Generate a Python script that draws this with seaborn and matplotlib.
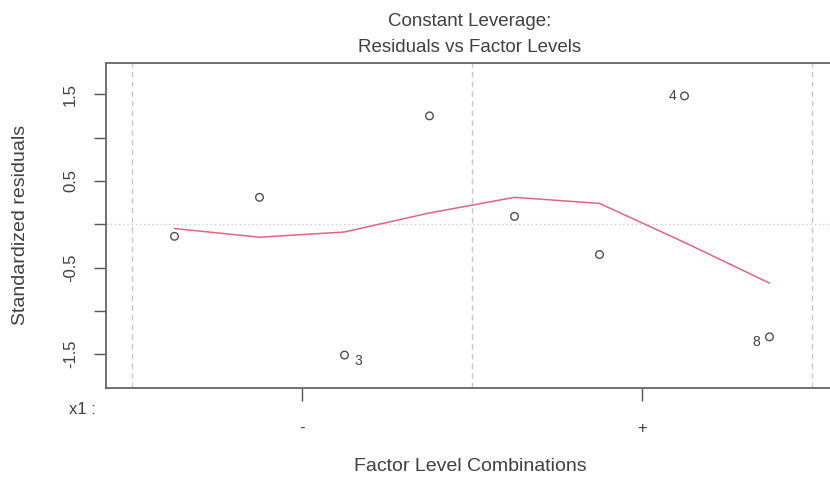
import matplotlib
matplotlib.use("Agg")
import matplotlib.pyplot as plt
import numpy as np
import pandas as pd
import seaborn as sns

# Standardized residuals for each run, ordered by factor level combination
obs_id = [1, 2, 3, 4, 5, 6, 7, 8]
std_resid = [-0.14, 0.31, -1.51, 1.25, 0.09, -0.35, 1.48, -1.30]
smooth_fit = [-0.05, -0.15, -0.09, 0.13, 0.31, 0.24, -0.21, -0.68]
level_labels = ["-", "+"]
factor_name = "x1"
flagged = {3: "3", 7: "4", 8: "8"}  # observation -> label shown

n_per_level = 4
x_pos = [i + 0.5 for i in range(len(obs_id))]
df = pd.DataFrame({"x": x_pos, "resid": std_resid, "fit": smooth_fit, "obs": obs_id})

sns.set_style("white")
plt.rcParams["font.family"] = ["Liberation Sans", "DejaVu Sans"]
txt = "#404040"

fig = plt.figure(figsize=(8.30, 4.86), dpi=100)
ax = fig.add_axes([106 / 830, 1 - 388 / 486, 732 / 830, 325 / 486])

# reference lines: zero residual and level boundaries
ax.axhline(0, color="#cccccc", lw=1.0, ls=(0, (1, 2)), zorder=1)
for b in range(0, len(obs_id) + 1, n_per_level):
    ax.axvline(b, color="#c8c8c8", lw=1.0, ls=(0, (4, 3)), zorder=1)

sns.lineplot(data=df, x="x", y="fit", ax=ax, color="#E0667F", lw=1.1,
             sort=False, zorder=2)
sns.scatterplot(data=df, x="x", y="resid", ax=ax, s=30, marker="o",
                facecolor="none", edgecolor="#505050", linewidth=1.0, zorder=3)

offsets = {3: (7, -4, "left"), 7: (-6, 0, "right"), 8: (-7, -4, "right")}
for o, lab in flagged.items():
    i = obs_id.index(o)
    dx, dy, ha = offsets[o]
    ax.annotate(lab, (x_pos[i], std_resid[i]), xytext=(dx, dy),
                textcoords="offset points", ha=ha, va="center",
                fontsize=10, color=txt)

ax.set_xlim(-0.306, 8.306)
ax.set_ylim(-1.89, 1.86)

yt = np.arange(-1.5, 1.51, 0.5)
ax.set_yticks(yt)
ax.set_yticklabels([f"{v:g}" if i % 2 == 0 else "" for i, v in enumerate(yt)],
                   rotation=90, va="center")
centers = [n_per_level / 2 + k * n_per_level for k in range(len(level_labels))]
ax.set_xticks(centers)
ax.set_xticklabels(level_labels)
ax.tick_params(axis="y", direction="out", length=9, width=1.0, color="#555555",
               labelsize=12, labelcolor=txt, pad=11, left=True)
ax.tick_params(axis="x", direction="out", length=9, width=1.0, color="#555555",
               labelsize=12, labelcolor=txt, pad=15, bottom=True)

for sp in ax.spines.values():
    sp.set_color("#666666")
    sp.set_linewidth(1.3)

ax.set_xlabel("Factor Level Combinations", fontsize=14, color=txt, va="center")
ax.xaxis.set_label_coords(0.5 - 2 / 732, (388 - 466) / 325)
ax.set_ylabel("Standardized residuals", fontsize=14, color=txt, va="center")
ax.yaxis.set_label_coords((21 - 106) / 732, (388 - 225) / 325)

fig.text(96 / 830, 1 - 409 / 486, f"{factor_name} :", ha="right", va="center",
         fontsize=12, color=txt)

fig.text(470 / 830, 1 - 22 / 486, "Constant Leverage:", ha="center", va="center",
         fontsize=13.5, color=txt)
fig.text(470 / 830, 1 - 47 / 486, "Residuals vs Factor Levels", ha="center",
         va="center", fontsize=13.5, color=txt)

fig.savefig("out.png", dpi=100, facecolor="white")
